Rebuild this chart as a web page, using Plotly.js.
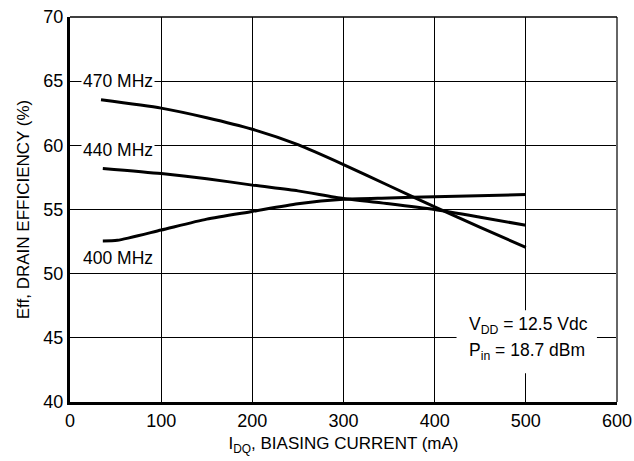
<!DOCTYPE html>
<html><head><meta charset="utf-8">
<script src="https://cdn.plot.ly/plotly-3.0.1.min.js"></script>
<style>html,body{margin:0;padding:0;background:#fff}#c{width:634px;height:461px}</style>
</head><body><div id="c"></div>
<script>
const FONT = '"Liberation Sans", Arial, sans-serif';
const current470 = [34, 100, 150, 200, 250, 300, 350, 400, 450, 500];
const eff470 =     [63.55, 62.9, 62.15, 61.25, 60.05, 58.5, 56.85, 55.2, 53.6, 52.05];
const current440 = [36, 100, 150, 200, 250, 300, 350, 400, 450, 500];
const eff440 =     [58.2, 57.8, 57.4, 56.9, 56.45, 55.85, 55.45, 55.0, 54.4, 53.77];
const current400 = [36, 52, 100, 150, 200, 250, 300, 350, 400, 500];
const eff400 =     [52.55, 52.6, 53.4, 54.25, 54.85, 55.45, 55.8, 55.9, 56.0, 56.16];
const seriesLabels = ['470 MHz', '440 MHz', '400 MHz'];
const labelY = [65, 59.6, 51.2];
const conditionLines = ['V<sub>DD</sub> = 12.5 Vdc', 'P<sub>in</sub> = 18.7 dBm'];
const conditionY = [46.0, 43.9];
const xTicks = [0, 100, 200, 300, 400, 500, 600];
const yTicks = [40, 45, 50, 55, 60, 65, 70];

const lineStyle = {color: '#000', width: 3, shape: 'spline', smoothing: 0.6};
const traces = [
  {x: current470, y: eff470, mode: 'lines', line: lineStyle, hoverinfo: 'skip'},
  {x: current440, y: eff440, mode: 'lines', line: lineStyle, hoverinfo: 'skip'},
  {x: current400, y: eff400, mode: 'lines', line: lineStyle, hoverinfo: 'skip'}
];
const annotations = seriesLabels.map((t, i) => ({
  x: 12, y: labelY[i], xref: 'x', yref: 'y', text: t, showarrow: false,
  xanchor: 'left', yanchor: 'middle', bgcolor: '#fff', borderpad: 1,
  font: {family: FONT, size: 17.5, color: '#000'}
}));
conditionLines.forEach((t, i) => annotations.push({
  x: 436, y: conditionY[i], xref: 'x', yref: 'y', showarrow: false,
  text: t, xanchor: 'left', yanchor: 'middle',
  font: {family: FONT, size: 17.5, color: '#000'}
}));
const layout = {
  width: 634, height: 461, showlegend: false,
  margin: {l: 70, r: 17, t: 17, b: 59},
  paper_bgcolor: '#fff', plot_bgcolor: '#fff',
  font: {family: FONT, color: '#000'},
  xaxis: {
    range: [0, 600], tickvals: xTicks, ticktext: xTicks.map(String),
    showgrid: true, gridcolor: '#000', gridwidth: 1, zeroline: false,
    showline: true, linecolor: '#000', linewidth: 3, mirror: false,
    ticks: '', ticklen: 0, tickfont: {family: FONT, size: 18},
    title: {text: 'I<sub>DQ</sub>, BIASING CURRENT (mA)', font: {family: FONT, size: 17}, standoff: 8}
  },
  yaxis: {
    range: [40, 70], tickvals: yTicks, ticktext: yTicks.map(String),
    showgrid: true, gridcolor: '#000', gridwidth: 1, zeroline: false,
    showline: true, linecolor: '#000', linewidth: 3,
    ticks: '', ticklen: 0, tickfont: {family: FONT, size: 18},
    title: {text: 'Eff, DRAIN EFFICIENCY (%)', font: {family: FONT, size: 17}, standoff: 10}
  },
  shapes: [
    {type: 'rect', xref: 'x', yref: 'y', x0: 424, x1: 578, y0: 42.25, y1: 47.15,
     fillcolor: '#fff', line: {width: 0}, layer: 'above'},
    {type: 'line', xref: 'paper', yref: 'paper', x0: 1, x1: 1, y0: 0, y1: 1, line: {color: '#666', width: 2}},
    {type: 'line', xref: 'paper', yref: 'paper', x0: 0, x1: 1, y0: 1, y1: 1, line: {color: '#000', width: 1.5}}
  ],
  annotations: annotations
};
Plotly.newPlot('c', traces, layout, {displayModeBar: false, staticPlot: true});
</script></body></html>
